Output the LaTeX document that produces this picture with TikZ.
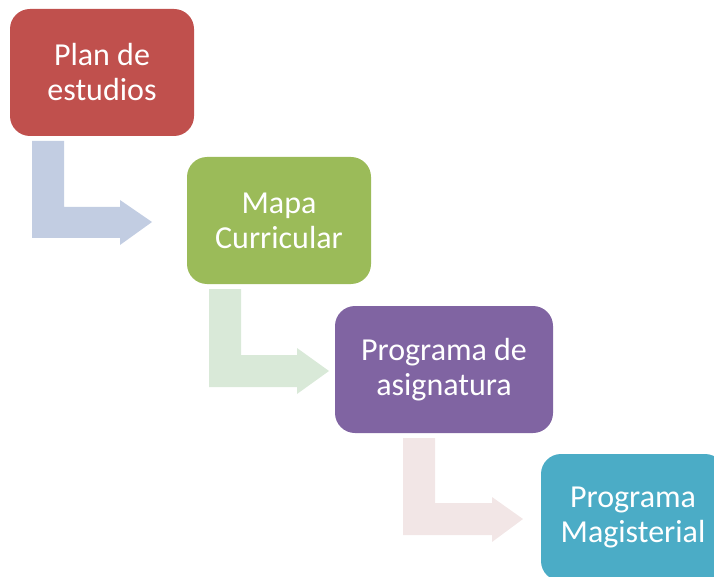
\documentclass[tikz,border=0pt]{standalone}
\usepackage{fontspec}
\setmainfont{Carlito}
\definecolor{cred}{HTML}{C0504D}
\definecolor{cgreen}{HTML}{9BBB59}
\definecolor{cpurple}{HTML}{8064A2}
\definecolor{cteal}{HTML}{4BACC6}
\definecolor{ablue}{HTML}{C2CDE2}
\definecolor{agreen}{HTML}{D9E9D8}
\definecolor{apink}{HTML}{F2E6E6}
\tikzset{
  stagebox/.style={rounded corners=20pt, inner sep=0pt, minimum height=127pt,
    text=white, align=center, font=\fontsize{32}{35}\selectfont},
}
\begin{document}
\begin{tikzpicture}[x=1pt,y=-1pt]
\useasboundingbox (0,0) rectangle (714,577);
\clip (0,0) rectangle (714,577);
% bent arrows
\fill[ablue] (32,141) -- (64,141) -- (64,207) -- (120,207) -- (120,200) -- (152,222) -- (120,245) -- (120,238) -- (32,238) -- cycle;
\fill[agreen] (209,289) -- (241,289) -- (241,355) -- (297,355) -- (297,348) -- (329,371) -- (297,394) -- (297,387) -- (209,387) -- cycle;
\fill[apink] (403,438) -- (435,438) -- (435,503) -- (492,503) -- (492,497) -- (523,519) -- (492,542) -- (492,535) -- (403,535) -- cycle;
% boxes
\node[stagebox, fill=cred, minimum width=184pt] (plan) at (102,72.5) {Plan de\\estudios};
\node[stagebox, fill=cgreen, minimum width=184pt] (mapa) at (279,220.5) {Mapa\\Curricular};
\node[stagebox, fill=cpurple, minimum width=218pt] (prog) at (444,369.5) {Programa de\\asignatura};
\node[stagebox, fill=cteal, minimum width=184pt] (mag) at (633,517.5) {Programa\\Magisterial};
\end{tikzpicture}
\end{document}
